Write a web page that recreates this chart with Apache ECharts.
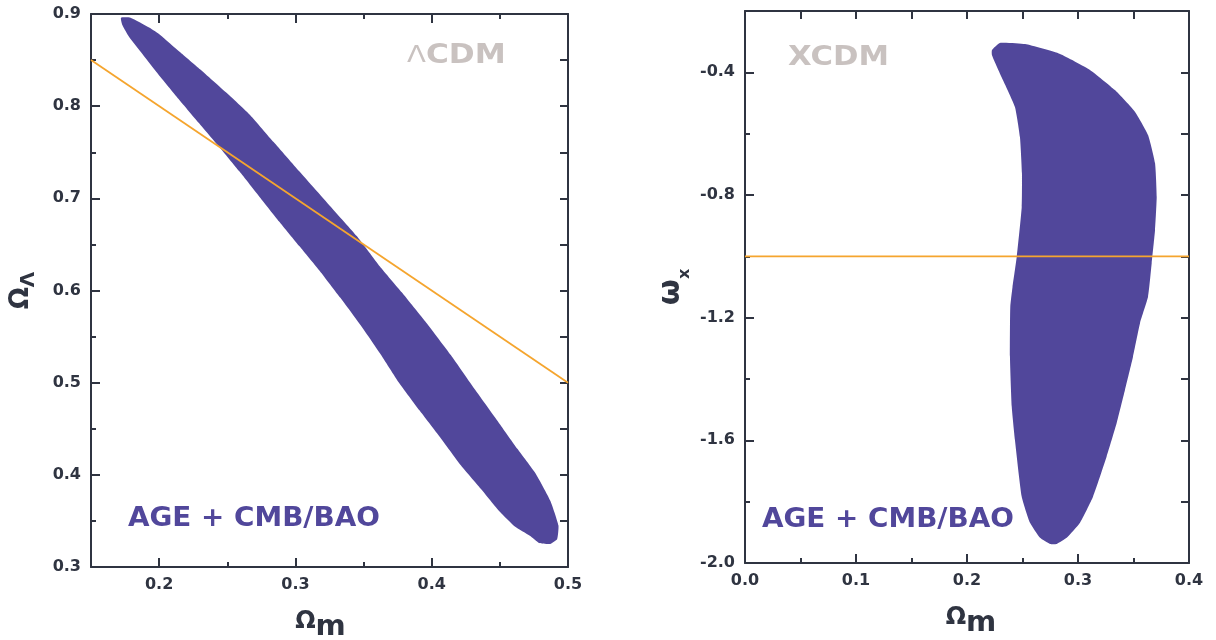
<!DOCTYPE html>
<html>
<head>
<meta charset="utf-8">
<script src="https://cdn.jsdelivr.net/npm/echarts@6/dist/echarts.min.js"></script>
<style>
  html, body { margin: 0; padding: 0; background: #ffffff; }
  #chart { width: 1216px; height: 640px; }
</style>
</head>
<body>
<div id="chart"></div>
<script>
// ΛCDM panel: boundary of the AGE + CMB/BAO allowed region in (Ω_m, Ω_Λ)
const lcdmRegion = [
  [0.172, 0.896], [0.179, 0.896], [0.193, 0.885], [0.201, 0.877], [0.215, 0.859],
  [0.230, 0.840], [0.249, 0.815], [0.267, 0.790], [0.284, 0.761], [0.303, 0.729],
  [0.327, 0.689], [0.345, 0.659], [0.362, 0.626], [0.378, 0.598], [0.396, 0.565],
  [0.414, 0.530], [0.432, 0.492], [0.450, 0.455], [0.463, 0.428], [0.476, 0.402],
  [0.487, 0.372], [0.493, 0.345], [0.492, 0.330], [0.487, 0.325], [0.479, 0.326],
  [0.472, 0.334], [0.461, 0.344], [0.450, 0.360], [0.436, 0.385], [0.421, 0.411],
  [0.406, 0.441], [0.391, 0.470], [0.376, 0.500], [0.362, 0.532], [0.348, 0.562],
  [0.333, 0.592], [0.318, 0.621], [0.303, 0.648], [0.288, 0.675], [0.274, 0.701],
  [0.259, 0.729], [0.244, 0.756], [0.229, 0.782], [0.213, 0.810], [0.198, 0.837],
  [0.188, 0.856], [0.178, 0.875], [0.173, 0.888]
];
// flat universe: Ω_Λ = 1 − Ω_m
const lcdmFlat = [[0.15, 0.85], [0.5, 0.5]];

// XCDM panel: boundary of the allowed region in (Ω_m, ω_x)
const xcdmRegion = [
  [0.2225, -0.327], [0.2297, -0.304], [0.2523, -0.308], [0.2838, -0.340], [0.3108, -0.392],
  [0.3333, -0.458], [0.3514, -0.529], [0.3631, -0.604], [0.3694, -0.696], [0.3709, -0.806],
  [0.3694, -0.914], [0.3664, -1.022], [0.3631, -1.132], [0.3559, -1.217], [0.3495, -1.328],
  [0.3423, -1.436], [0.3349, -1.543], [0.3258, -1.653], [0.3135, -1.784], [0.3018, -1.869],
  [0.2898, -1.918], [0.2808, -1.938], [0.2748, -1.938], [0.2658, -1.918], [0.2568, -1.869],
  [0.2493, -1.784], [0.2432, -1.599], [0.2403, -1.490], [0.2387, -1.327], [0.2390, -1.164],
  [0.2410, -1.100], [0.2448, -1.002], [0.2493, -0.839], [0.2495, -0.728], [0.2477, -0.611],
  [0.2432, -0.513], [0.2324, -0.425], [0.2225, -0.344]
];
// cosmological constant: ω_x = −1
const xcdmLambda = [[0.0, -1.0], [0.4, -1.0]];

// tick positions
const lcdmXMajor = [0.2, 0.3, 0.4, 0.5];
const lcdmXMinor = [0.25, 0.35, 0.45];
const lcdmYMajor = [0.3, 0.4, 0.5, 0.6, 0.7, 0.8, 0.9];
const lcdmYMinor = [0.35, 0.45, 0.55, 0.65, 0.75, 0.85];
const xcdmXMajor = [0.0, 0.1, 0.2, 0.3, 0.4];
const xcdmXMinor = [0.05, 0.15, 0.25, 0.35];
const xcdmYMajor = [-2.0, -1.6, -1.2, -0.8, -0.4];
const xcdmYMinor = [-1.8, -1.4, -1.0, -0.6];

const AXIS = '#2f3441';
const FILL = '#51479b';
const LINE = '#f5a52e';
const NOTE = '#c9c2c0';
const FONT = 'DejaVu Sans';

function makeAxis(gridIndex, position, min, max, ticks, len, withLine, labels, extra) {
  return Object.assign({
    type: 'value', gridIndex, position, min, max,
    splitLine: { show: false },
    axisLine: { show: withLine, onZero: false, lineStyle: { color: AXIS, width: 2 } },
    axisTick: { show: true, inside: true, length: len, customValues: ticks,
                lineStyle: { color: AXIS, width: 2 } },
    axisLabel: labels ? {
      show: true, customValues: labels, formatter: v => v.toFixed(1),
      color: AXIS, fontFamily: FONT, fontWeight: 'bold', fontSize: 16, margin: 10
    } : { show: false }
  }, extra || {});
}

// subscripts: top-aligned tokens, the small glyph pushed down with top padding
function subRich(bigSize, smallSize, drop) {
  return {
    o: { fontFamily: FONT, fontWeight: 'bold', fontSize: bigSize, color: AXIS, verticalAlign: 'top' },
    s: { fontFamily: FONT, fontWeight: 'bold', fontSize: smallSize, color: AXIS, verticalAlign: 'top',
         padding: [drop, 0, 0, 0] }
  };
}

function xName(pad) {
  return {
    name: '{o|Ω}{s|m}', nameLocation: 'middle', nameGap: 43,
    nameTextStyle: { rich: subRich(24, 29, 3), padding: pad }
  };
}

const xAxes = [
  makeAxis(0, 'bottom', 0.15, 0.5, lcdmXMajor, 9, true, lcdmXMajor, xName([0, 18, 0, 0])),
  makeAxis(0, 'bottom', 0.15, 0.5, lcdmXMinor, 5, false),
  makeAxis(0, 'top', 0.15, 0.5, lcdmXMajor, 9, true),
  makeAxis(0, 'top', 0.15, 0.5, lcdmXMinor, 5, false),
  makeAxis(1, 'bottom', 0.0, 0.4, xcdmXMajor, 9, true, xcdmXMajor, xName([0, 0, 0, 8])),
  makeAxis(1, 'bottom', 0.0, 0.4, xcdmXMinor, 5, false),
  makeAxis(1, 'top', 0.0, 0.4, xcdmXMajor, 8, true),
  makeAxis(1, 'top', 0.0, 0.4, xcdmXMinor, 8, false)
];

const yAxes = [
  makeAxis(0, 'left', 0.3, 0.9, lcdmYMajor, 9, true, lcdmYMajor, {
    name: '{o|Ω}{s|Λ}', nameLocation: 'middle', nameGap: 52,
    nameTextStyle: { rich: subRich(26, 20, 11) }
  }),
  makeAxis(0, 'left', 0.3, 0.9, lcdmYMinor, 5, false),
  makeAxis(0, 'right', 0.3, 0.9, lcdmYMajor, 8, true),
  makeAxis(0, 'right', 0.3, 0.9, lcdmYMinor, 8, false),
  makeAxis(1, 'left', -2.0, -0.2, xcdmYMajor, 9, true, xcdmYMajor, {
    name: '{o|ω}{s|x}', nameLocation: 'middle', nameGap: 52,
    nameTextStyle: { rich: subRich(30, 16, 21) }
  }),
  makeAxis(1, 'left', -2.0, -0.2, xcdmYMinor, 5, false),
  makeAxis(1, 'right', -2.0, -0.2, xcdmYMajor, 8, true),
  makeAxis(1, 'right', -2.0, -0.2, xcdmYMinor, 8, false)
];

function regionSeries(points, xi, yi) {
  return {
    type: 'custom', xAxisIndex: xi, yAxisIndex: yi, data: points, silent: true, z: 2,
    renderItem(params, api) {
      if (params.dataIndex !== 0) return;
      return {
        type: 'polygon',
        shape: { points: points.map(p => api.coord(p)), smooth: 0.15 },
        style: { fill: FILL, stroke: null }
      };
    }
  };
}

function lineSeries(points, xi, yi) {
  return {
    type: 'line', xAxisIndex: xi, yAxisIndex: yi, data: points, z: 3,
    symbol: 'none', silent: true, animation: false,
    lineStyle: { color: LINE, width: 1.8 }
  };
}

const chart = echarts.init(document.getElementById('chart'), null, { renderer: 'canvas' });
chart.setOption({
  animation: false,
  backgroundColor: '#ffffff',
  grid: [
    { left: 91, top: 14, width: 477, height: 553, outerBoundsMode: 'none' },
    { left: 745, top: 11, width: 444, height: 552, outerBoundsMode: 'none' }
  ],
  xAxis: xAxes,
  yAxis: yAxes,
  series: [
    regionSeries(lcdmRegion, 0, 0),
    lineSeries(lcdmFlat, 0, 0),
    regionSeries(xcdmRegion, 4, 4),
    lineSeries(xcdmLambda, 4, 4)
  ],
  graphic: [
    {
      type: 'text', left: 407, top: 43, z: 10, scaleX: 1.2,
      style: {
        text: '{l|Λ}CDM', fill: NOTE, fontFamily: FONT, fontWeight: 'bold', fontSize: 26,
        rich: { l: { fill: NOTE, fontFamily: FONT, fontWeight: 'normal', fontSize: 23 } }
      }
    },
    {
      type: 'text', left: 788, top: 45, z: 10, scaleX: 1.18,
      style: { text: 'XCDM', fill: NOTE, fontFamily: FONT, fontWeight: 'bold', fontSize: 26 }
    },
    {
      type: 'text', left: 128, top: 506, z: 10, scaleX: 1.07,
      style: { text: 'AGE + CMB/BAO', fill: FILL, fontFamily: FONT, fontWeight: 'bold', fontSize: 26 }
    },
    {
      type: 'text', left: 762, top: 507, z: 10, scaleX: 1.07,
      style: { text: 'AGE + CMB/BAO', fill: FILL, fontFamily: FONT, fontWeight: 'bold', fontSize: 26 }
    }
  ]
});
</script>
</body>
</html>
